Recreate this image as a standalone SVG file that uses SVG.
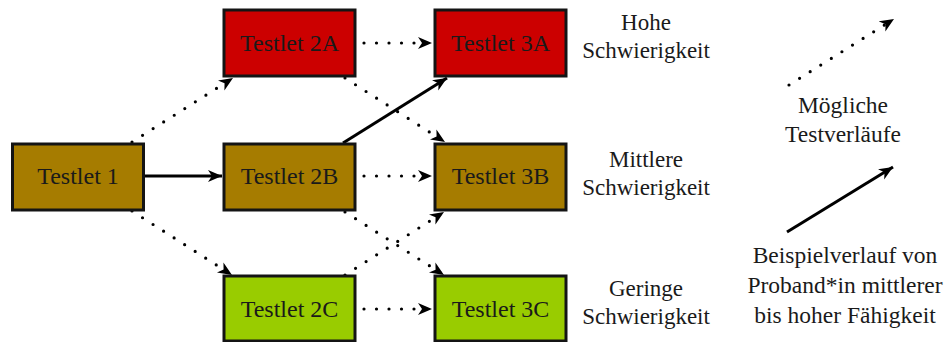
<svg xmlns="http://www.w3.org/2000/svg" width="946" height="342" viewBox="0 0 946 342">
<style>
.box{stroke:#141414;stroke-width:3}
.red{fill:#CC0000}
.brown{fill:#A67C00}
.green{fill:#99CC00}
.t{font-family:"Liberation Serif","Times New Roman",serif;font-size:23px;fill:#1a1a1a;text-anchor:middle}
.lg{font-size:23.5px}
.bt{font-size:24px}
.solid{stroke:#000;stroke-width:3;fill:none;marker-end:url(#ah)}
.dot{stroke:#000;stroke-width:3.2;fill:none;stroke-linecap:round;stroke-dasharray:0 12.5;marker-end:url(#ah)}
</style>
<defs>
<marker id="ah" markerUnits="userSpaceOnUse" markerWidth="16" markerHeight="14" refX="14" refY="6" orient="auto">
<path d="M0,0 L14,6 L0,12 L4,6 z" fill="#000"/>
</marker>
</defs>
<rect width="946" height="342" fill="#fff"/>
<g id="connectors">
<line class="dot" x1="132" y1="142" x2="233" y2="78"/>
<line class="solid" x1="145" y1="176" x2="222" y2="176"/>
<line class="dot" x1="132" y1="211" x2="232" y2="275"/>
<line class="dot" x1="364" y1="43" x2="432" y2="43"/>
<line class="dot" x1="345" y1="78" x2="445" y2="142"/>
<line class="solid" x1="343" y1="143" x2="447" y2="78"/>
<line class="dot" x1="364" y1="176" x2="432" y2="176"/>
<line class="dot" x1="345" y1="212" x2="444" y2="275"/>
<line class="dot" x1="345" y1="275" x2="444" y2="212"/>
<line class="dot" x1="364" y1="309" x2="432" y2="309"/>
<line class="dot" x1="789" y1="85" x2="894" y2="19"/>
<line class="solid" x1="787" y1="232" x2="893" y2="167"/>
</g>
<g id="testlet1"><rect class="box brown" x="12.5" y="144" width="131" height="66"/><text class="t bt" x="78" y="184">Testlet 1</text></g>
<g id="testlet2A"><rect class="box red" x="224" y="10" width="131" height="66"/><text class="t bt" x="289.5" y="51">Testlet 2A</text></g>
<g id="testlet2B"><rect class="box brown" x="224" y="144" width="131" height="66"/><text class="t bt" x="289.5" y="184">Testlet 2B</text></g>
<g id="testlet2C"><rect class="box green" x="224" y="276" width="131" height="65"/><text class="t bt" x="289.5" y="317">Testlet 2C</text></g>
<g id="testlet3A"><rect class="box red" x="435" y="10" width="131" height="66"/><text class="t bt" x="500.5" y="51">Testlet 3A</text></g>
<g id="testlet3B"><rect class="box brown" x="435" y="144" width="131" height="66"/><text class="t bt" x="500.5" y="184">Testlet 3B</text></g>
<g id="testlet3C"><rect class="box green" x="435" y="276" width="131" height="65"/><text class="t bt" x="500.5" y="317">Testlet 3C</text></g>
<g id="label-hoch"><text class="t" x="646" y="30">Hohe</text><text class="t" x="646" y="58">Schwierigkeit</text></g>
<g id="label-mittel"><text class="t" x="646" y="167">Mittlere</text><text class="t" x="646" y="195">Schwierigkeit</text></g>
<g id="label-gering"><text class="t" x="646" y="296">Geringe</text><text class="t" x="646" y="324">Schwierigkeit</text></g>
<g id="legend-moeglich"><text class="t lg" x="843" y="113">Mögliche</text><text class="t lg" x="843" y="142">Testverläufe</text></g>
<g id="legend-beispiel"><text class="t lg" x="845" y="263">Beispielverlauf von</text><text class="t lg" x="845" y="293">Proband*in mittlerer</text><text class="t lg" x="845" y="323">bis hoher Fähigkeit</text></g>
</svg>
